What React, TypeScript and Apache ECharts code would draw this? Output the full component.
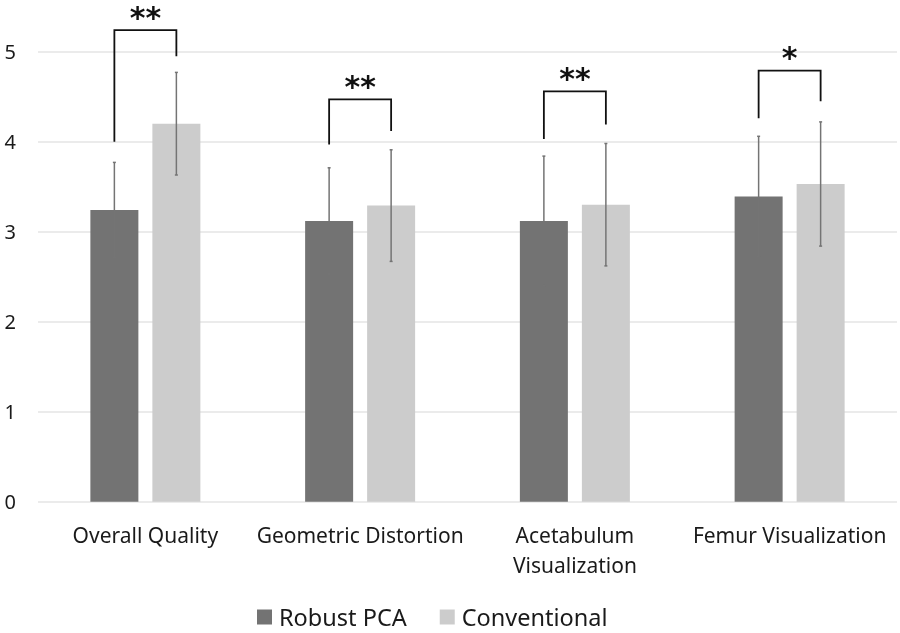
import React, { useEffect, useRef } from "react";
import * as echarts from "echarts";

const categories = ["Overall Quality", "Geometric Distortion", "Acetabulum\nVisualization", "Femur Visualization"];
const seriesNames = ["Robust PCA", "Conventional"];
const robustMean = [3.24, 3.12, 3.12, 3.39];
const robustSd = [0.53, 0.59, 0.72, 0.67];
const convMean = [4.2, 3.29, 3.3, 3.53];
const convSd = [0.57, 0.62, 0.68, 0.69];
// bracket: [leftBottom, rightBottom, top]
const bracketLeft = [4.0, 3.97, 4.03, 4.26];
const bracketRight = [4.95, 4.12, 4.19, 4.45];
const bracketTop = [5.24, 4.47, 4.56, 4.79];
const significance = ["**", "**", "**", "*"];
const yTicks = [0, 1, 2, 3, 4, 5];

const DARK = "#737373";
const LIGHT = "#cccccc";
const ERR = "#747474";
const FONT = "'Noto Sans', sans-serif";
const BAR_W = 48;
const GAP = 14;
const OFFSET = (BAR_W + GAP) / 2;

export default function App() {
  const ref = useRef<HTMLDivElement>(null);
  useEffect(() => {
    if (!ref.current) return;
    const chart = echarts.init(ref.current, null, { renderer: "svg" });
    const errRender = (sign: number) => (params: any, api: any) => {
      const ci = api.value(0);
      const lo = api.coord([ci, api.value(1)]);
      const hi = api.coord([ci, api.value(2)]);
      const x = lo[0] + sign * OFFSET;
      const style = { stroke: ERR, lineWidth: 1.5 };
      return {
        type: "group",
        children: [
          { type: "line", shape: { x1: x, y1: lo[1], x2: x, y2: hi[1] }, style },
          { type: "line", shape: { x1: x - 1.5, y1: lo[1], x2: x + 1.5, y2: lo[1] }, style },
          { type: "line", shape: { x1: x - 1.5, y1: hi[1], x2: x + 1.5, y2: hi[1] }, style },
        ],
      };
    };
    const bracketData = categories.map((_, i) => [i, bracketLeft[i], bracketRight[i], bracketTop[i]]);
    chart.setOption({
      animation: false,
      grid: { left: 38, right: 3, top: 51.7, bottom: 131.3, containLabel: false },
      legend: {
        top: 605,
        left: 257,
        padding: 0,
        itemWidth: 15,
        itemHeight: 15,
        itemGap: 33,
        icon: "rect",
        textStyle: { fontFamily: FONT, fontSize: 23.5, color: "#1a1a1a", padding: [0, 0, 0, 2] },
        data: seriesNames,
      },
      xAxis: {
        type: "category",
        data: categories,
        axisLine: { show: false },
        axisTick: { show: false },
        axisLabel: { interval: 0, fontFamily: FONT, fontSize: 21, color: "#1a1a1a", margin: 18, lineHeight: 30 },
      },
      yAxis: {
        type: "value",
        min: 0,
        max: 5,
        interval: 1,
        axisLine: { show: false },
        axisTick: { show: false },
        splitLine: { lineStyle: { color: "#e4e4e4", width: 1.5 } },
        axisLabel: { fontFamily: FONT, fontSize: 20, color: "#1a1a1a", margin: 22, formatter: (v: number) => (yTicks.includes(v) ? String(v) : "") },
      },
      series: [
        { name: seriesNames[0], type: "bar", data: robustMean, barWidth: BAR_W, barGap: (GAP / BAR_W) * 100 + "%", itemStyle: { color: DARK } },
        { name: seriesNames[1], type: "bar", data: convMean, barWidth: BAR_W, itemStyle: { color: LIGHT } },
        {
          type: "custom",
          renderItem: errRender(-1),
          data: robustMean.map((m, i) => [i, m - robustSd[i], m + robustSd[i]]),
          z: 5,
          silent: true,
        },
        {
          type: "custom",
          renderItem: errRender(1),
          data: convMean.map((m, i) => [i, m - convSd[i], m + convSd[i]]),
          z: 5,
          silent: true,
        },
        {
          type: "custom",
          clip: false,
          z: 6,
          silent: true,
          data: bracketData,
          renderItem: (params: any, api: any) => {
            const ci = api.value(0);
            const l = api.coord([ci, api.value(1)]);
            const r = api.coord([ci, api.value(2)]);
            const t = api.coord([ci, api.value(3)]);
            const xl = l[0] - OFFSET;
            const xr = l[0] + OFFSET;
            return {
              type: "group",
              children: [
                {
                  type: "polyline",
                  shape: { points: [[xl, l[1]], [xl, t[1]], [xr, t[1]], [xr, r[1]]] },
                  style: { stroke: "#111", lineWidth: 1.8, fill: null },
                },
                {
                  type: "text",
                  x: l[0],
                  y: t[1] - 28,
                  style: {
                    text: significance[params.dataIndex],
                    fontFamily: "'DejaVu Sans', sans-serif",
                    fontWeight: "bold",
                    fontSize: 30,
                    fill: "#111",
                    align: "center",
                    verticalAlign: "top",
                  },
                },
              ],
            };
          },
        },
      ],
    });
    return () => chart.dispose();
  }, []);
  return <div ref={ref} style={{ position: "fixed", left: 0, top: 0, width: 900, height: 633 }} />;
}
